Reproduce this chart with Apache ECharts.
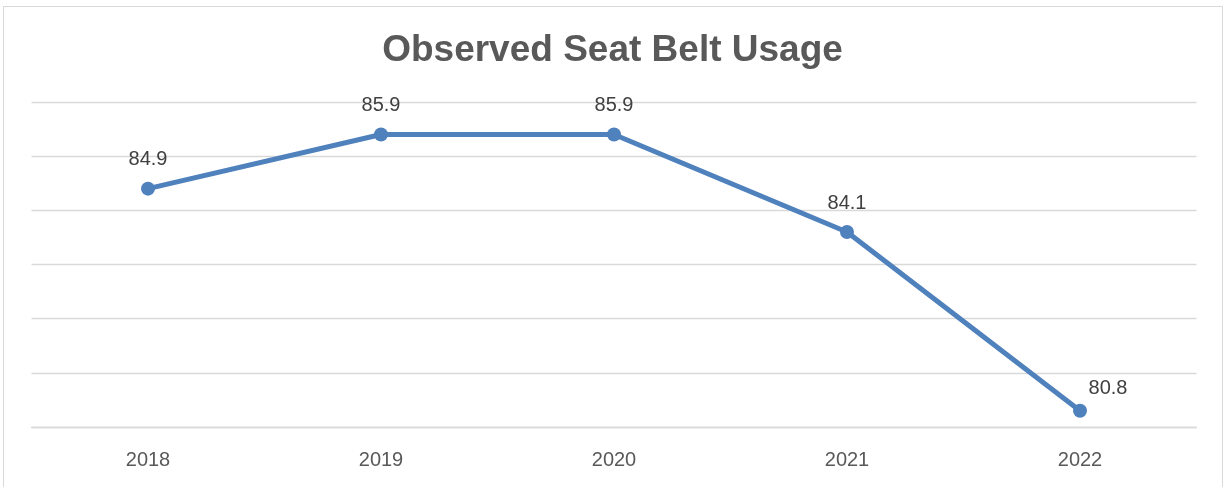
<!DOCTYPE html>
<html>
<head>
<meta charset="utf-8">
<script src="https://cdn.jsdelivr.net/npm/echarts@6/dist/echarts.min.js"></script>
<style>
  html, body { margin: 0; padding: 0; background: #fff; }
  #chart { width: 1225px; height: 487px; }
  .frame { position: absolute; left: 3px; top: 6px; width: 1218px; height: 490px; border: 1px solid #d9d9d9; pointer-events: none; }
</style>
</head>
<body>
<div id="chart"></div>
<div class="frame"></div>
<script>
const years = ['2018', '2019', '2020', '2021', '2022']
const usage = [84.9, 85.9, 85.9, 84.1, 80.8]

const chart = echarts.init(document.getElementById('chart'))

// last point label sits to the upper right, like the source
const seriesData = usage.map((v, i) => {
  if (i === usage.length - 1) {
    return { value: v, label: { offset: [28, 7] } }
  }
  return v
})

chart.setOption({
  animation: false,
  title: {
    text: 'Observed Seat Belt Usage',
    left: 'center',
    top: 27,
    textStyle: {
      fontFamily: 'Liberation Sans, Arial, sans-serif',
      fontSize: 37,
      fontWeight: 'bold',
      color: '#595959'
    }
  },
  grid: {
    left: 31.5,
    right: 28.5,
    top: 102,
    bottom: 60
  },
  xAxis: {
    type: 'category',
    data: years,
    axisLine: { lineStyle: { color: '#d9d9d9', width: 1.3 } },
    axisTick: { show: false },
    axisLabel: {
      margin: 23,
      fontSize: 20,
      color: '#595959',
      fontFamily: 'Liberation Sans, Arial, sans-serif'
    }
  },
  yAxis: {
    type: 'value',
    min: 80.5,
    max: 86.5,
    interval: 1,
    axisLine: { show: false },
    axisTick: { show: false },
    axisLabel: { show: false },
    splitLine: { lineStyle: { color: '#d9d9d9', width: 1.3 } }
  },
  series: [
    {
      type: 'line',
      data: seriesData,
      symbol: 'circle',
      symbolSize: 14,
      lineStyle: { color: '#4f81bd', width: 5 },
      itemStyle: { color: '#4f81bd' },
      label: {
        show: true,
        position: 'top',
        distance: 12,
        fontSize: 20,
        color: '#404040',
        fontFamily: 'Liberation Sans, Arial, sans-serif'
      }
    }
  ]
})
</script>
</body>
</html>
